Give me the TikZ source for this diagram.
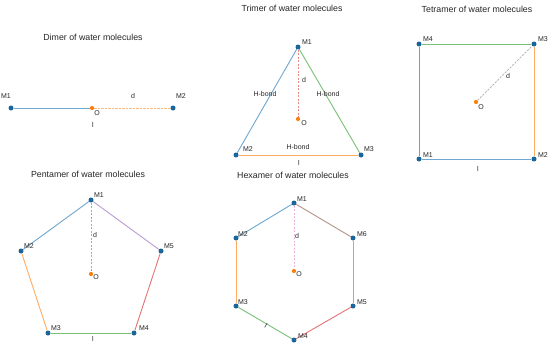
\documentclass[tikz,border=0pt]{standalone}
\usepackage{fontspec}
\setmainfont{Liberation Sans}
\usetikzlibrary{positioning}
\definecolor{tblue}{HTML}{1F77B4}
\definecolor{torange}{HTML}{FF7F0E}
\definecolor{tgreen}{HTML}{2CA02C}
\definecolor{tred}{HTML}{D62728}
\definecolor{tpurple}{HTML}{9467BD}
\definecolor{tbrown}{HTML}{8C564B}
\definecolor{tpink}{HTML}{E377C2}
\definecolor{tgray}{HTML}{7F7F7F}
\begin{document}
\begin{tikzpicture}[
  x=1pt,y=-1pt,
  every node/.style={font=\fontsize{7}{8}\selectfont,inner sep=0pt,text=black!85},
  title/.style={font=\fontsize{8.8}{10}\selectfont},
  mol/.style={circle,fill=tblue!85!black,minimum size=5pt},
  ctr/.style={circle,fill=torange,minimum size=4.2pt},
  bond/.style={line width=0.9pt,draw opacity=0.65},
  dist/.style={line width=1pt,dash pattern=on 2.2pt off 1.3pt,draw opacity=0.55}
]
\useasboundingbox (0,0) rectangle (550,348);
% dimer
\node[title] (dimT) at (93,37) {Dimer of water molecules};
\node[mol] (d1) at (11,108) {};
\node[ctr] (dO) at (92,108) {};
\node[mol] (d2) at (173,108) {};
\draw[bond,tblue] (d1)--(dO);
\draw[dist,torange] (dO)--(d2);
\node (d1l) at (6,96) {M1};
\node (d2l) at (181,96) {M2};
\node (ddl) at (133,96) {d};
\node (dOl) at (97,113) {O};
\node (dll) at (93,125) {l};
% trimer
\node[title] (triT) at (292,8) {Trimer of water molecules};
\node[mol] (t1) at (298,47) {};
\node[mol] (t2) at (236,155) {};
\node[mol] (t3) at (361,155) {};
\node[ctr] (tO) at (298,119) {};
\draw[bond,tblue] (t1)--(t2);
\draw[bond,tgreen] (t1)--(t3);
\draw[bond,torange] (t2)--(t3);
\draw[dist,tred] (t1)--(tO);
\node (t1l) at (307,42) {M1};
\node (t2l) at (248,149) {M2};
\node (t3l) at (369,149) {M3};
\node (tdl) at (304,80) {d};
\node (tOl) at (304,123) {O};
\node (tll) at (299,163) {l};
\node (tb1) at (265,94) {H-bond};
\node (tb2) at (328,94) {H-bond};
\node (tb3) at (298,147) {H-bond};
% tetramer
\node[title] (tetT) at (477,9) {Tetramer of water molecules};
\node[mol] (q1) at (419,159) {};
\node[mol] (q2) at (534,159) {};
\node[mol] (q3) at (534,44) {};
\node[mol] (q4) at (419,44) {};
\node[ctr] (qO) at (476,102) {};
\draw[bond,tblue] (q1)--(q2);
\draw[bond,torange] (q2)--(q3);
\draw[bond,tgreen] (q3)--(q4);
\draw[bond,tred] (q4)--(q1);
\draw[dist,tgray] (qO)--(q3);
\node (q1l) at (428,155) {M1};
\node (q2l) at (543,155) {M2};
\node (q3l) at (543,39) {M3};
\node (q4l) at (428,39) {M4};
\node (qdl) at (508,76) {d};
\node (qOl) at (481,107) {O};
\node (qll) at (478,169) {l};
% pentamer
\node[title] (penT) at (88,174) {Pentamer of water molecules};
\node[mol] (p1) at (91,200) {};
\node[mol] (p2) at (21,251) {};
\node[mol] (p3) at (48,333) {};
\node[mol] (p4) at (134,333) {};
\node[mol] (p5) at (161,251) {};
\node[ctr] (pO) at (91,274) {};
\draw[bond,tblue] (p1)--(p2);
\draw[bond,torange] (p2)--(p3);
\draw[bond,tgreen] (p3)--(p4);
\draw[bond,tred] (p4)--(p5);
\draw[bond,tpurple] (p5)--(p1);
\draw[dist,tbrown] (p1)--(pO);
\node (p1l) at (99,195) {M1};
\node (p2l) at (29,246) {M2};
\node (p3l) at (56,328) {M3};
\node (p4l) at (144,328) {M4};
\node (p5l) at (169,246) {M5};
\node (pdl) at (95,235) {d};
\node (pOl) at (96,277) {O};
\node (pll) at (93,339) {l};
% hexamer
\node[title] (hexT) at (293,175) {Hexamer of water molecules};
\node[mol] (h1) at (294,203) {};
\node[mol] (h2) at (236,238) {};
\node[mol] (h3) at (236,306) {};
\node[mol] (h4) at (294,340) {};
\node[mol] (h5) at (353,306) {};
\node[mol] (h6) at (353,238) {};
\node[ctr] (hO) at (294,271) {};
\draw[bond,tblue] (h1)--(h2);
\draw[bond,torange] (h2)--(h3);
\draw[bond,tgreen] (h3)--(h4);
\draw[bond,tred] (h4)--(h5);
\draw[bond,tpurple] (h5)--(h6);
\draw[bond,tbrown] (h6)--(h1);
\draw[dist,tpink] (h1)--(hO);
\node (h1l) at (302,199) {M1};
\node (h2l) at (243,234) {M2};
\node (h3l) at (243,302) {M3};
\node (h4l) at (303,336) {M4};
\node (h5l) at (362,302) {M5};
\node (h6l) at (362,234) {M6};
\node (hdl) at (297,236) {d};
\node (hOl) at (299,274) {O};
\node[rotate=-30] (hll) at (266,326) {l};
\end{tikzpicture}
\end{document}
